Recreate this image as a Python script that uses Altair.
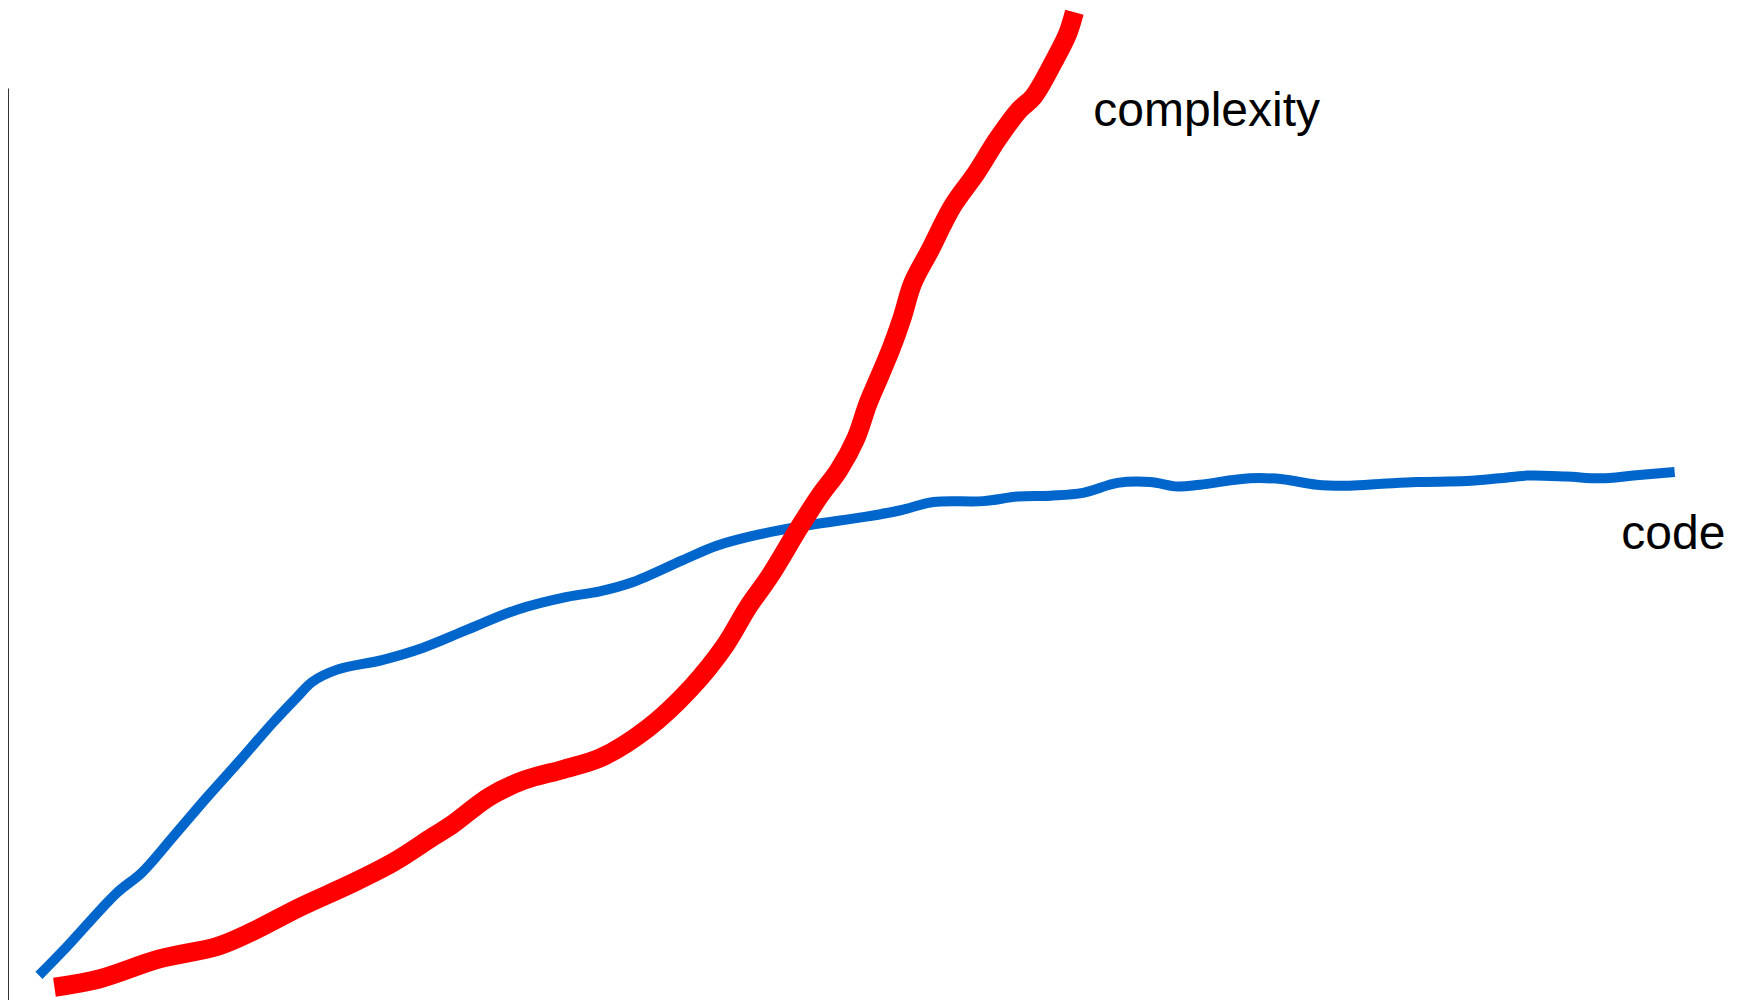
import altair as alt
import pandas as pd

# ---- data ----
code_t = [1.8, 3.4, 6.3, 7.8, 9.6, 11.6, 13.5, 15.4, 16.8, 17.7,
          19.1, 21.8, 24.1, 26.7, 29.6, 32.5, 34.4, 36.3, 39.2, 41.2,
          43.1, 46.0, 49.9, 51.9, 53.8, 56.7, 58.7, 60.6, 62.5, 64.5,
          66.4, 68.0, 69.3, 72.2, 74.1, 76.1, 78.0, 79.9, 81.9, 84.8,
          86.7, 88.3, 90.6, 92.6, 94.5, 96.9]
code_v = [2.7, 5.8, 11.7, 14.0, 17.9, 22.3, 26.3, 30.4, 33.2, 34.9,
          36.2, 37.3, 38.6, 40.6, 42.8, 44.2, 44.8, 45.8, 48.2, 49.8,
          50.8, 51.9, 53.0, 53.7, 54.6, 54.7, 55.2, 55.3, 55.6, 56.7,
          56.8, 56.3, 56.5, 57.2, 57.1, 56.5, 56.4, 56.6, 56.8, 56.9,
          57.2, 57.5, 57.4, 57.2, 57.5, 57.9]

complexity_t = [2.7, 5.3, 8.8, 12.2, 14.2, 17.0, 19.9, 22.4, 24.7, 25.8,
                28.0, 30.0, 32.3, 34.5, 37.2, 39.7, 41.7, 43.0, 44.3, 46.0,
                47.2, 48.3, 49.3, 50.0, 50.7, 51.4, 52.0, 52.6, 53.6, 54.9,
                56.3, 57.5, 58.8, 59.6, 60.8, 61.6, 62.0]
complexity_v = [1.4, 2.3, 4.5, 5.9, 7.5, 10.2, 12.7, 15.1, 17.9, 19.2,
                22.3, 24.1, 25.3, 26.6, 29.8, 34.2, 38.9, 43.0, 46.5, 51.8,
                55.3, 58.1, 61.6, 65.4, 68.5, 71.7, 74.9, 78.6, 82.2, 87.0,
                90.7, 94.3, 97.6, 99.0, 102.9, 105.9, 108.3]

label_text = ["complexity", "code"]
label_t = [63.1, 93.8]
label_v = [95.8, 49.5]

BLUE = "#0066CC"
RED = "#FF0000"

code_df = pd.DataFrame({"t": code_t, "v": code_v})
cplx_df = pd.DataFrame({"t": complexity_t, "v": complexity_v})
label_df = pd.DataFrame({"t": label_t, "v": label_v, "label": label_text})

x_scale = alt.Scale(domain=[0, 100], nice=False, zero=False)
y_scale = alt.Scale(domain=[0, 100], nice=False, zero=False)
y_axis = alt.Axis(labels=False, ticks=False, grid=False, title=None,
                  domain=True, domainColor="#333333", domainWidth=1)

X = alt.X("t:Q", scale=x_scale, axis=None)
Y = alt.Y("v:Q", scale=y_scale, axis=y_axis)

code_line = alt.Chart(code_df).mark_line(
    color=BLUE, strokeWidth=10, interpolate="catmull-rom"
).encode(x=X, y=Y)

cplx_line = alt.Chart(cplx_df).mark_line(
    color=RED, strokeWidth=19, interpolate="catmull-rom"
).encode(x=X, y=Y)

labels = alt.Chart(label_df).mark_text(
    font="Liberation Sans", fontSize=48, align="left",
    baseline="alphabetic", color="black"
).encode(x=X, y=Y, text="label:N")

chart = alt.layer(code_line, cplx_line, labels).properties(
    width=1720,
    height=912,
    autosize=alt.AutoSizeParams(type="none"),
    padding={"left": 0, "top": 80, "right": 0, "bottom": 0},
    background="white",
).configure_view(stroke=None)

chart.save("out.html", embed_options={"renderer": "svg", "actions": False})
